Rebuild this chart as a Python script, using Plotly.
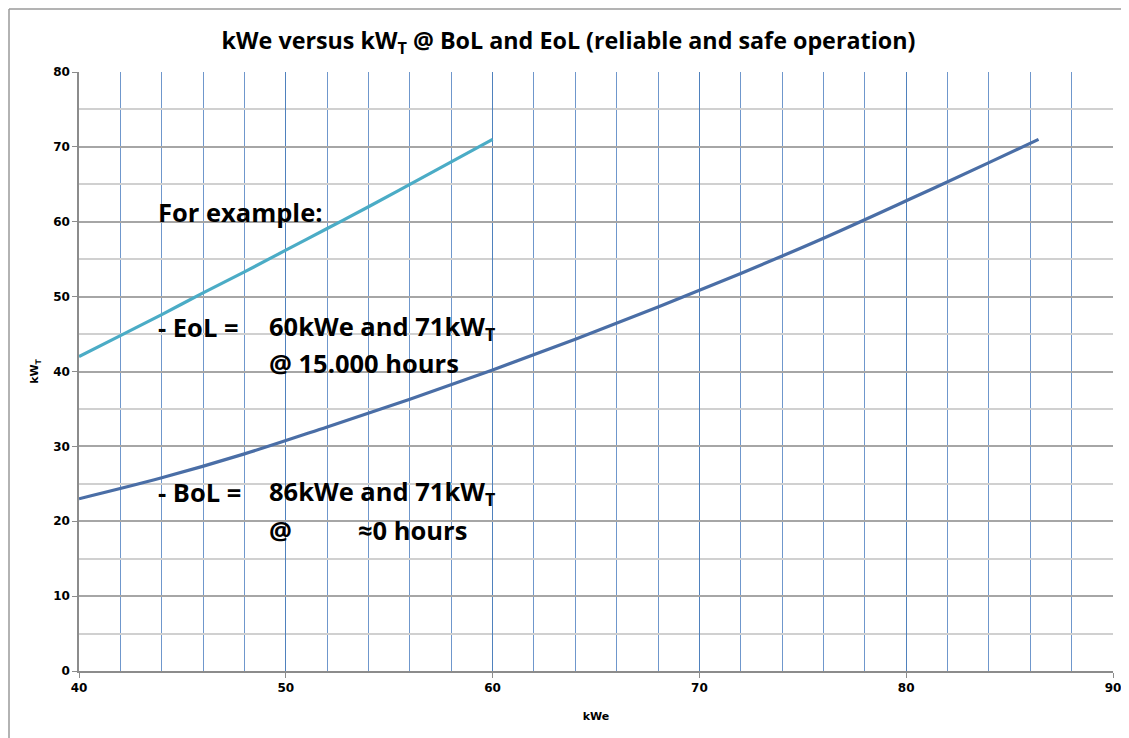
import plotly.graph_objects as go

title_text = "kWe versus kW<sub>T</sub> @ BoL and EoL (reliable and safe operation)"
x_title = "kWe"
y_title = "kW<sub>T</sub>"

eol_kwe = [40, 42, 44, 46, 48, 50, 52, 54, 56, 58, 60]
eol_kwt = [42.0, 44.8, 47.6, 50.5, 53.3, 56.2, 59.1, 62.0, 65.0, 68.0, 71.0]

bol_kwe = [40, 44, 48, 52, 56, 60, 64, 68, 72, 76, 80, 84, 86.4]
bol_kwt = [23.0, 25.8, 29.0, 32.6, 36.3, 40.2, 44.3, 48.6, 53.1, 57.8, 62.8, 67.9, 71.0]

x_ticks = [40, 50, 60, 70, 80, 90]
y_ticks = [0, 10, 20, 30, 40, 50, 60, 70, 80]

FONT = "Open Sans"
ann_font = dict(family=FONT, size=25.5, color="black")

fig = go.Figure()
fig.add_trace(go.Scatter(x=eol_kwe, y=eol_kwt, mode="lines", line=dict(color="#4bacc6", width=3.2), line_shape="spline", showlegend=False))
fig.add_trace(go.Scatter(x=bol_kwe, y=bol_kwt, mode="lines", line=dict(color="#4a6ea6", width=3.2), line_shape="spline", showlegend=False))

def ann(text, x, y):
    fig.add_annotation(text="<b>" + text + "</b>", x=x, y=y, xref="x", yref="y",
                       xanchor="left", yanchor="middle", showarrow=False, font=ann_font)

ann("For example:", 43.7, 61.3)
ann("- EoL =", 43.7, 45.9)
ann("60kWe and 71kW<sub>T</sub>", 49.1, 45.9)
ann("@ 15.000 hours", 49.1, 41.1)
ann("- BoL =", 43.7, 23.9)
ann("86kWe and 71kW<sub>T</sub>", 49.1, 23.9)
ann("@", 49.1, 18.8)
ann("≈0 hours", 53.4, 18.8)

fig.update_layout(
    width=1121, height=730,
    margin=dict(l=71, r=16, t=64, b=67, autoexpand=False),
    paper_bgcolor="white", plot_bgcolor="white",
    title=dict(text="<b>" + title_text + "</b>", x=0.5, xref="container", xanchor="center", y=0.9555, yanchor="middle",
               font=dict(family=FONT, size=23.3, color="black")),
    xaxis=dict(range=[40, 90], tickvals=x_ticks, showgrid=True, gridcolor="#4f81bd", gridwidth=1,
               minor=dict(dtick=2, tick0=40, showgrid=True, gridcolor="#6f97cc", gridwidth=1),
               showline=True, linecolor="#8c8c8c", linewidth=1.5, ticks="outside", ticklen=5,
               tickcolor="#8c8c8c", zeroline=False, automargin=False,
               tickfont=dict(family="DejaVu Sans", size=12, color="black", weight="bold"),
               title=dict(text="<b>" + x_title + "</b>", font=dict(family="DejaVu Sans", size=11, color="black"), standoff=18)),
    yaxis=dict(range=[0, 80], tickvals=y_ticks, showgrid=True, gridcolor="#a6a6a6", gridwidth=1.5,
               minor=dict(dtick=5, tick0=0, showgrid=True, gridcolor="#d0d0d0", gridwidth=1.5),
               showline=True, linecolor="#8c8c8c", linewidth=1.5, ticks="outside", ticklen=5,
               tickcolor="#8c8c8c", zeroline=False, automargin=False,
               tickfont=dict(family="DejaVu Sans", size=12, color="black", weight="bold"),
               title=dict(text="<b>" + y_title + "</b>", font=dict(family="DejaVu Sans", size=11, color="black"), standoff=12)),
    shapes=[
        dict(type="line", xref="paper", yref="paper", x0=-0.0677, x1=1.02, y0=1.1052, y1=1.1052, line=dict(color="#9a9a9a", width=1.5)),
        dict(type="line", xref="paper", yref="paper", x0=-0.0677, x1=-0.0677, y0=1.1052, y1=-0.12, line=dict(color="#9a9a9a", width=1.5)),
    ],
)

fig.write_html("out.html")
